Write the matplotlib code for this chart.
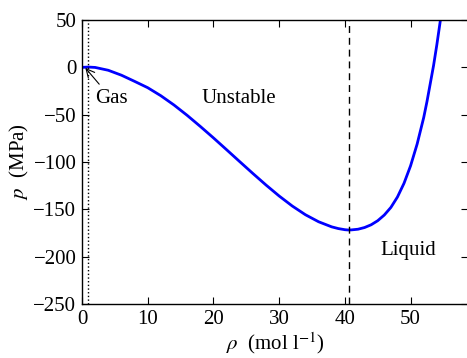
import numpy as np
import matplotlib
matplotlib.use('Agg')
import matplotlib.pyplot as plt

# isotherm
rho = [0, 1, 2, 4, 6, 8, 10, 12, 14, 16, 18, 20, 22, 24, 26, 28, 30, 32, 34,
       36, 38, 39, 40, 40.5, 41, 42, 43, 44, 45, 46, 47, 48, 49, 50, 51, 52,
       52.5, 53, 53.5, 54, 54.5, 54.7]
p = [0, 0.3, -0.1, -3.1, -8.3, -14.8, -21.5, -30, -39.8, -50.7, -62.4, -74.5,
     -87, -99.6, -112.1, -124.3, -135.9, -146.5, -155.7, -163.1, -168.5,
     -170.3, -171.5, -171.8, -171.7, -171, -169.2, -166.3, -162, -156, -148,
     -137, -122.5, -104, -81, -53, -36, -17, 2, 24, 48, 58]

rho_gas = 0.9       # dotted line
rho_liquid = 40.6   # dashed line (minimum)

xticks = [0, 10, 20, 30, 40, 50]
yticks = [-250, -200, -150, -100, -50, 0, 50]

plt.rcParams['font.family'] = ['Liberation Serif', 'DejaVu Serif']
plt.rcParams['mathtext.fontset'] = 'stix'
plt.rcParams['font.size'] = 15

fig = plt.figure(figsize=(4.67, 3.58), dpi=100)
ax = fig.add_axes([0.1756, 0.1508, 0.8274, 0.7933])

ax.plot(rho, p, color='#0000ff', lw=2)
ax.axvline(rho_gas, color='k', ls=':', lw=1)
ax.axvline(rho_liquid, color='k', ls='--', lw=1, dashes=(5, 3.5))

ax.annotate('Gas', xy=(0.5, -0.5), xytext=(2.0, -33), ha='left', va='center',
            arrowprops=dict(arrowstyle='->', color='k', lw=0.8, shrinkA=2, shrinkB=0))
ax.text(23.9, -33, 'Unstable', ha='center', va='center')
ax.text(49.6, -193, 'Liquid', ha='center', va='center')

ax.set_xlim(0, 58.8)
ax.set_ylim(-250, 50)
ax.set_xticks(xticks)
ax.set_yticks(yticks)
ax.set_yticklabels(['\u2212250', '\u2212200', '\u2212150', '\u2212100', '\u221250', '0', '50'])
ax.tick_params(direction='in', top=True, right=True, length=5, width=0.8, pad=4)
for s in ax.spines.values():
    s.set_linewidth(1)

ax.set_xlabel(r'$\rho$  (mol l$^{-1}$)', labelpad=1)
ax.set_ylabel(r'$p$  (MPa)', labelpad=2)

fig.savefig('out.png', dpi=100)
